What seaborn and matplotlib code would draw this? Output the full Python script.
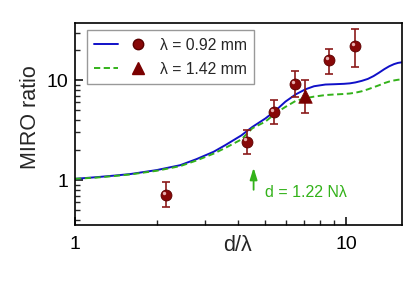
import numpy as np
import pandas as pd
import matplotlib
matplotlib.use("Agg")
import matplotlib.pyplot as plt
import matplotlib.transforms as mtransforms
from matplotlib.legend_handler import HandlerTuple
from matplotlib.lines import Line2D
import seaborn as sns

# theory curves
curve_x = [1.0, 1.2, 1.4, 1.6, 2.0, 2.44, 2.8, 3.24, 3.58, 4.1, 4.5, 5.03, 5.5,
           5.96, 6.5, 7.06, 7.6, 8.37, 9.08, 9.8, 10.3, 10.8, 11.4, 12.0, 12.6,
           13.2, 13.8, 14.4, 15.0, 15.5, 16.0]
blue_y = [1.03, 1.07, 1.11, 1.15, 1.26, 1.41, 1.62, 1.92, 2.24, 2.8, 3.4, 4.14, 5.0,
          6.1, 7.2, 8.1, 8.7, 9.05, 9.12, 9.2, 9.3, 9.5, 9.85, 10.3, 11.0,
          11.9, 12.9, 13.8, 14.5, 14.9, 15.1]
green_y = [1.03, 1.06, 1.10, 1.14, 1.24, 1.38, 1.57, 1.84, 2.1, 2.55, 3.3, 3.85, 4.7,
           5.4, 6.2, 6.6, 6.85, 7.1, 7.2, 7.28, 7.36, 7.5, 7.75, 8.1, 8.5,
           8.9, 9.35, 9.7, 9.95, 10.1, 10.2]

# measured data, lambda = 0.92 mm
circ_x = [2.16, 4.31, 5.39, 6.44, 8.62, 10.76]
circ_y = [0.71, 2.43, 4.76, 9.12, 15.8, 21.8]
circ_lo = [0.54, 1.82, 3.62, 6.8, 11.5, 13.5]
circ_hi = [0.95, 3.17, 6.3, 12.3, 20.7, 32.4]

# measured data, lambda = 1.42 mm
tri_x = [7.01]
tri_y = [7.0]
tri_lo = [4.66]
tri_hi = [10.0]

labels = ["\u03bb = 0.92 mm", "\u03bb = 1.42 mm"]
x_ticks = [1, 10]
x_ticklabels = ["1", "10"]
y_ticks = [1, 10]
y_ticklabels = ["1", "10"]

sns.set_style("white")
plt.rcParams["font.family"] = ["Liberation Sans", "DejaVu Sans"]

fig = plt.figure(figsize=(4.15, 2.93), dpi=100)
ax = fig.add_axes([0.181, 0.232, 0.787, 0.688])

blue = "#1010c8"
green = "#33b21a"
dred = "#7a0000"

df = pd.DataFrame({"x": curve_x, "blue": blue_y, "green": green_y})
sns.lineplot(data=df, x="x", y="blue", ax=ax, color=blue, lw=1.4)
sns.lineplot(data=df, x="x", y="green", ax=ax, color=green, lw=1.4, dashes=False)
ax.lines[-1].set_linestyle((0, (3.2, 1.8)))

ax.set_xscale("log")
ax.set_yscale("log")

cy = np.array(circ_y)
ax.errorbar(circ_x, circ_y, yerr=[cy - np.array(circ_lo), np.array(circ_hi) - cy],
            fmt="none", ecolor="#8b1a1a", elinewidth=1.2, capsize=3, capthick=1.2, zorder=3)
ty = np.array(tri_y)
ax.errorbar(tri_x, tri_y, yerr=[ty - np.array(tri_lo), np.array(tri_hi) - ty],
            fmt="none", ecolor="#8b1a1a", elinewidth=1.2, capsize=3, capthick=1.2, zorder=3)

sns.scatterplot(x=circ_x, y=circ_y, ax=ax, marker="o", s=62, color="#880808",
                edgecolor="#5a0000", linewidth=0.6, zorder=4)
hl = mtransforms.offset_copy(ax.transData, fig=fig, x=-1.4, y=1.6, units="points")
ax.scatter(circ_x, circ_y, s=6, color="#e8b0b0", transform=hl, zorder=5, linewidths=0)
sns.scatterplot(x=tri_x, y=tri_y, ax=ax, marker="^", s=95, color=dred,
                edgecolor=dred, linewidth=0.5, zorder=4)

ax.set_xlim(1, 16)
ax.set_ylim(0.355, 37)

ax.set_xticks(x_ticks)
ax.set_xticklabels(x_ticklabels)
ax.set_yticks(y_ticks)
ax.set_yticklabels(y_ticklabels)
ax.xaxis.set_minor_locator(matplotlib.ticker.LogLocator(base=10, subs=np.arange(2, 10)))
ax.yaxis.set_minor_locator(matplotlib.ticker.LogLocator(base=10, subs=np.arange(2, 10)))
ax.xaxis.set_minor_formatter(matplotlib.ticker.NullFormatter())
ax.yaxis.set_minor_formatter(matplotlib.ticker.NullFormatter())
ax.tick_params(axis="both", which="major", direction="in", length=6, width=1.1,
               labelsize=14, colors="black", bottom=True, left=True, top=False, right=False)
ax.tick_params(axis="both", which="minor", direction="in", length=3.5, width=1.0,
               bottom=True, left=True, top=False, right=False)
ax.tick_params(axis="x", which="major", pad=8)
ax.tick_params(axis="y", which="major", pad=5)
for sp in ax.spines.values():
    sp.set_color("black")
    sp.set_linewidth(1.2)

ax.set_xlabel("d/\u03bb", fontsize=15.5)
ax.xaxis.set_label_coords(0.496, -0.05)
ax.set_ylabel("MIRO ratio", fontsize=15.5)
ax.yaxis.set_label_coords(-0.105, 0.537)

ax.annotate("", xy=(4.55, 1.33), xytext=(4.55, 0.80),
            arrowprops=dict(arrowstyle="-|>,head_length=0.7,head_width=0.22",
                            color=green, lw=1.3, shrinkA=0, shrinkB=0))
ax.text(5.03, 0.76, "d = 1.22 N\u03bb", color=green, fontsize=11.5, va="center", ha="left")

h1 = (Line2D([], [], color=blue, lw=1.4),
      Line2D([], [], ls="none", marker="o", ms=7.5, color="#880808", mec="#5a0000"))
h2 = (Line2D([], [], color=green, lw=1.4, ls=(0, (3.2, 1.8))),
      Line2D([], [], ls="none", marker="^", ms=9, color=dred))
leg = ax.legend([h1, h2], labels, handler_map={tuple: HandlerTuple(ndivide=None, pad=0.5)},
                loc="upper left", bbox_to_anchor=(0.035, 0.965), handlelength=3.6,
                fontsize=11.3, frameon=True, fancybox=False, borderpad=0.45,
                labelspacing=0.6, handletextpad=0.6, borderaxespad=0.0)
leg.get_frame().set_edgecolor("#808080")
leg.get_frame().set_linewidth(1.0)

fig.savefig("out.png", dpi=100)
